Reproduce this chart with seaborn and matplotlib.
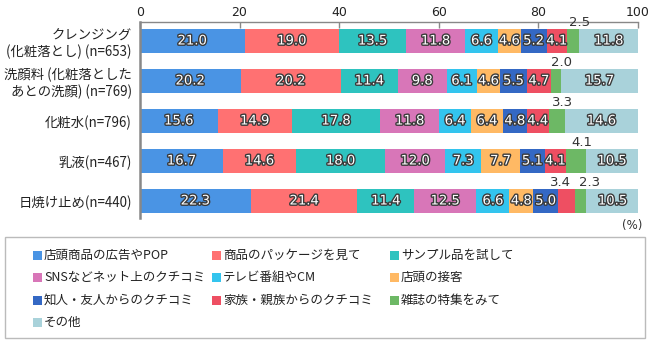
import numpy as np
import pandas as pd
import matplotlib
matplotlib.use("Agg")
import matplotlib.pyplot as plt
import matplotlib.patheffects as pe
from matplotlib.patches import Rectangle
import seaborn as sns

categories = [
    "クレンジング\n(化粧落とし) (n=653)",
    "洗顔料 (化粧落とした\nあとの洗顔) (n=769)",
    "化粧水(n=796)",
    "乳液(n=467)",
    "日焼け止め(n=440)",
]
series_names = [
    "店頭商品の広告やPOP", "商品のパッケージを見て", "サンプル品を試して",
    "SNSなどネット上のクチコミ", "テレビ番組やCM", "店頭の接客",
    "知人・友人からのクチコミ", "家族・親族からのクチコミ", "雑誌の特集をみて",
    "その他",
]
values = [
    [21.0, 19.0, 13.5, 11.8, 6.6, 4.6, 5.2, 4.1, 2.5, 11.8],
    [20.2, 20.2, 11.4, 9.8, 6.1, 4.6, 5.5, 4.7, 2.0, 15.7],
    [15.6, 14.9, 17.8, 11.8, 6.4, 6.4, 4.8, 4.4, 3.3, 14.6],
    [16.7, 14.6, 18.0, 12.0, 7.3, 7.7, 5.1, 4.1, 4.1, 10.5],
    [22.3, 21.4, 11.4, 12.5, 6.6, 4.8, 5.0, 3.4, 2.3, 10.5],
]
colors = ["#4A94E4", "#FF7172", "#2EC3BF", "#D876B8", "#33C4EE",
          "#FFB964", "#3468C4", "#EE4F62", "#6DB865", "#A9D2DA"]
x_ticks = [0, 20, 40, 60, 80, 100]

sns.set_style("white")
plt.rcParams["font.family"] = ["Noto Sans CJK JP", "DejaVu Sans"]

W, H = 650, 340
fig = plt.figure(figsize=(6.5, 3.4), dpi=100)
ax = fig.add_axes([140 / W, 1 - 218 / H, 497.7 / W, 196 / H])

vals = np.array(values)
cum = np.cumsum(vals, axis=1)
for i in reversed(range(len(series_names))):
    df = pd.DataFrame({"cat": categories, "v": cum[:, i]})
    sns.barplot(data=df, x="v", y="cat", orient="h", color=colors[i],
                saturation=1, width=0.58, linewidth=0, ax=ax, order=categories)

ax.set_xlim(0, 100)
ax.set_ylim(4.425, -0.475)
ax.set_xlabel("")
ax.set_ylabel("")
ax.xaxis.tick_top()
ax.set_xticks(x_ticks)
ax.set_xticklabels([str(t) for t in x_ticks], fontsize=9, color="#222",
                   family="DejaVu Sans")
ax.tick_params(axis="x", direction="in", length=4, width=1, color="#888", pad=2)
ax.tick_params(axis="y", length=0, pad=6, labelsize=9.6, colors="#222")
for lbl in ax.get_yticklabels():
    lbl.set_horizontalalignment("right")
    lbl.set_multialignment("right")
for s in ["right", "bottom"]:
    ax.spines[s].set_visible(False)
ax.spines["left"].set_color("#888")
ax.spines["left"].set_linewidth(1.8)
ax.spines["top"].set_color("#888")
ax.spines["top"].set_linewidth(1)

stroke = [pe.withStroke(linewidth=2.0, foreground="#3a3a3a")]
for r in range(len(categories)):
    left = 0.0
    for i in range(len(series_names)):
        v = vals[r, i]
        c = left + v / 2
        if i == 8 or (r == 4 and i == 7):
            dx = 0.0
            if r == 4:
                dx = -1.3 if i == 7 else 1.8
            elif i == 8:
                dx = 1.2
            ax.text(c + dx, r - 0.47, f"{v:.1f}", ha="center", va="center",
                    fontsize=9.5, color="#333", family="DejaVu Sans")
        else:
            ax.text(c, r, f"{v:.1f}", ha="center", va="center", fontsize=9.5,
                    color="white", family="DejaVu Sans", path_effects=stroke)
        left += v

fig.text(632 / W, 1 - 226 / H, "(%)", ha="center", va="center",
         fontsize=8.5, color="#333", family="DejaVu Sans")

# legend (frame + entries laid out in rows of three)
fig.patches.append(Rectangle((5 / W, 2 / H), 640 / W, 101 / H,
                             transform=fig.transFigure, fill=False,
                             edgecolor="#bbb", linewidth=1))
col_x = [33, 212, 390]
row_y = [255, 277, 300, 322]
for k, name in enumerate(series_names):
    rr, cc = divmod(k, 3)
    x0, y0 = col_x[cc], row_y[rr]
    fig.patches.append(Rectangle((x0 / W, (H - y0 - 4.5) / H), 9 / W, 9 / H,
                                 transform=fig.transFigure, facecolor=colors[k],
                                 edgecolor="none"))
    fig.text((x0 + 11) / W, (H - y0) / H, name, ha="left", va="center",
             fontsize=9, color="#222")

fig.savefig("out.png", dpi=100)
